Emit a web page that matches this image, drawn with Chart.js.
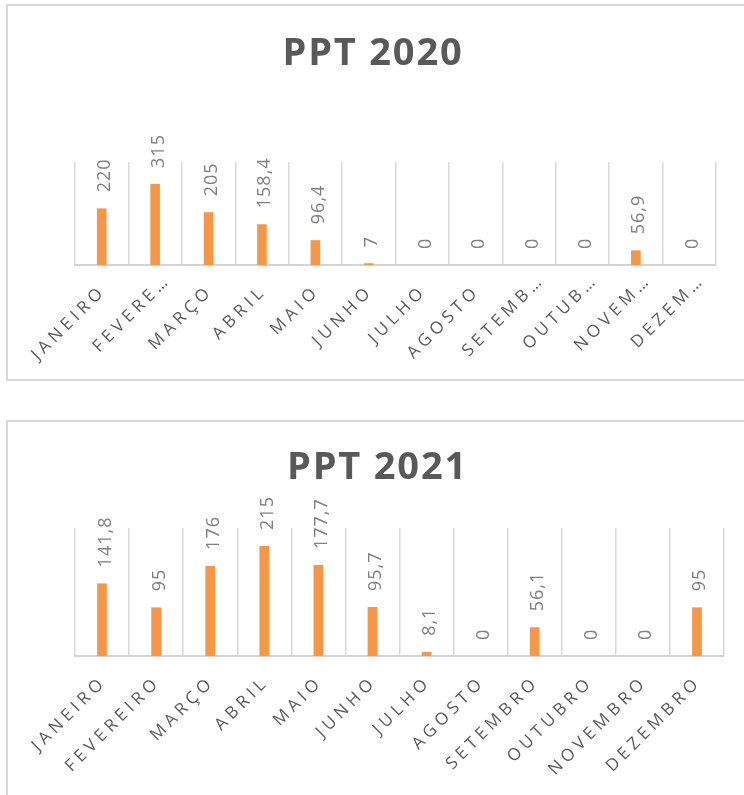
<!DOCTYPE html>
<html>
<head>
<meta charset="utf-8">
<script src="https://cdn.jsdelivr.net/npm/chart.js@4"></script>
<style>
  body { margin: 0; background: #fff; width: 744px; height: 795px; overflow: hidden; position: relative; }
  .box { position: absolute; left: 6px; width: 800px; border: 2px solid #d9d9d9; box-sizing: border-box; }
  canvas { position: absolute; left: 0; }
</style>
</head>
<body>
<div class="box" style="top: 4px; height: 377px;"></div>
<div class="box" style="top: 420px; height: 500px;"></div>
<canvas id="c2020" width="744" height="400" style="top: 0px;"></canvas>
<canvas id="c2021" width="744" height="395" style="top: 400px;"></canvas>
<script>
const months = ["JANEIRO", "FEVEREIRO", "MARÇO", "ABRIL", "MAIO", "JUNHO",
  "JULHO", "AGOSTO", "SETEMBRO", "OUTUBRO", "NOVEMBRO", "DEZEMBRO"];
const ticks2020 = ["JANEIRO", "FEVERE…", "MARÇO", "ABRIL", "MAIO", "JUNHO",
  "JULHO", "AGOSTO", "SETEMB…", "OUTUB…", "NOVEM…", "DEZEM…"];
const ticks2021 = months;
const ppt2020 = [220, 315, 205, 158.4, 96.4, 7, 0, 0, 0, 0, 56.9, 0];
const ppt2021 = [141.8, 95, 176, 215, 177.7, 95.7, 8.1, 0, 56.1, 0, 0, 95];

// title letter spacing (Chart.js has no option for it)
const titleSpacing = {
  id: "titleSpacing",
  beforeDraw(chart) { chart.ctx.letterSpacing = "1.8px"; },
  afterDraw(chart) { chart.ctx.letterSpacing = "0px"; }
};

// rotated value labels above each bar
const valueLabels = {
  id: "valueLabels",
  afterDatasetsDraw(chart) {
    const ctx = chart.ctx;
    const meta = chart.getDatasetMeta(0);
    const values = chart.data.datasets[0].data;
    ctx.save();
    ctx.font = "18px 'Open Sans'";
    ctx.letterSpacing = "1px";
    ctx.fillStyle = "#808080";
    ctx.textAlign = "left";
    ctx.textBaseline = "alphabetic";
    meta.data.forEach((bar, i) => {
      ctx.save();
      ctx.translate(bar.x + 8.5, bar.y - 16);
      ctx.rotate(-Math.PI / 2);
      ctx.fillText(String(values[i]).replace(".", ","), 0, 0);
      ctx.restore();
    });
    ctx.restore();
  }
};

// 45 degree category labels with letter spacing
const monthLabels = {
  id: "monthLabels",
  afterDraw(chart, args, opts) {
    const ctx = chart.ctx;
    const x = chart.scales.x;
    const bottom = chart.chartArea.bottom;
    ctx.save();
    ctx.font = "17px 'Open Sans'";
    ctx.letterSpacing = "4.5px";
    ctx.fillStyle = "#595959";
    ctx.textAlign = "right";
    ctx.textBaseline = "alphabetic";
    opts.labels.forEach((txt, i) => {
      const cx = x.getPixelForValue(i);
      const shift = txt.endsWith("…") ? 16 : 0;
      ctx.save();
      ctx.translate(cx + 2, bottom + 30);
      ctx.rotate(-Math.PI / 4);
      ctx.fillText(txt, 4.5 + shift, 0);
      ctx.restore();
    });
    ctx.restore();
  }
};

function makeChart(id, title, values, tickLabels, yMax, lay) {
  const data = {
    labels: months,
    datasets: [
      {
        label: title,
        data: values,
        backgroundColor: "#f79646",
        categoryPercentage: 1,
        barPercentage: 0.18
      }
    ]
  };

  const options = {
    responsive: false,
    animation: false,
    layout: {
      padding: { left: lay.left, right: lay.right, top: 0, bottom: lay.bottom }
    },
    scales: {
      x: {
        ticks: { display: false },
        grid: { offset: true, color: "#d9d9d9", lineWidth: 1.5, drawTicks: false },
        border: { color: "#d4d4d4", width: 2 }
      },
      y: {
        min: 0,
        max: yMax,
        ticks: { display: false },
        grid: { display: false },
        border: { display: false },
        afterFit: function (scale) {
          scale.width = lay.yWidth;
        }
      }
    },
    plugins: {
      legend: { display: false },
      tooltip: { enabled: false },
      title: {
        display: true,
        text: title,
        color: "#595959",
        font: { family: "'Open Sans'", size: 38, weight: "bold", lineHeight: 1.2 },
        padding: { top: lay.titleTop, bottom: lay.titleBottom }
      },
      monthLabels: { labels: tickLabels }
    }
  };

  return new Chart(document.getElementById(id).getContext("2d"), {
    type: "bar",
    data: data,
    options: options,
    plugins: [titleSpacing, valueLabels, monthLabels]
  });
}

makeChart("c2020", "PPT 2020", ppt2020, ticks2020, 400,
  { left: 30, right: 28, bottom: 135, yWidth: 45, titleTop: 31, titleBottom: 85.4 });
makeChart("c2021", "PPT 2021", ppt2021, ticks2021, 250,
  { left: 31, right: 20, bottom: 139, yWidth: 44, titleTop: 45.4, titleBottom: 37 });
</script>
</body>
</html>
